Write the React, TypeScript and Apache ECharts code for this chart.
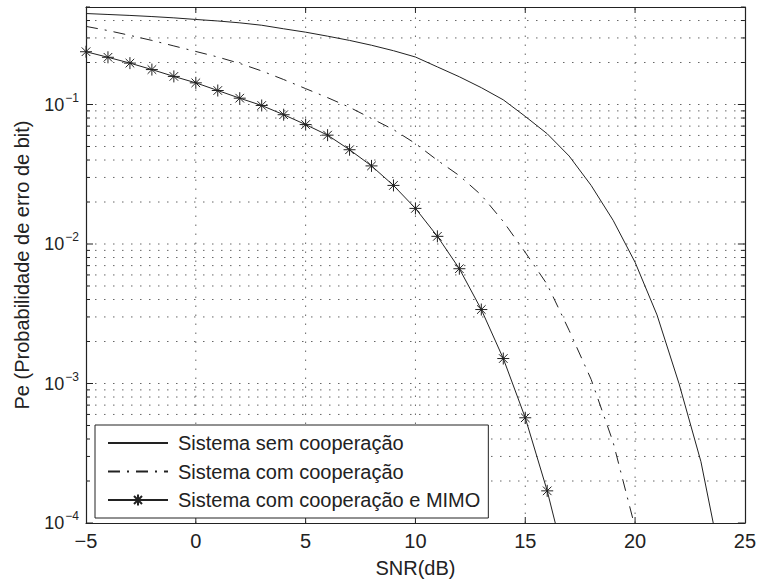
import React, { useEffect, useRef } from 'react';
import * as echarts from 'echarts';

// SNR (dB) sample points
const SNR = [-5, -4, -3, -2, -1, 0, 1, 2, 3, 4, 5, 6, 7, 8, 9, 10, 11, 12, 13, 14, 15, 16, 17, 18, 19, 20, 21, 22, 23, 24];

// Sistema sem cooperação (solid)
const semCooperacao = [
  0.449, 0.442, 0.435, 0.427, 0.418, 0.407, 0.397, 0.385, 0.37, 0.349,
  0.33, 0.309, 0.288, 0.266, 0.243, 0.219, 0.186, 0.158, 0.132, 0.108,
  0.0822, 0.0617, 0.0427, 0.0263, 0.0148, 0.0074, 0.0031, 0.001, 0.000275, 0.000045,
];

// Sistema com cooperação (dash-dot)
const comCooperacao = [
  0.363, 0.339, 0.313, 0.288, 0.263, 0.24, 0.219, 0.197, 0.174, 0.151,
  0.13, 0.112, 0.0955, 0.0794, 0.0661, 0.0525, 0.0398, 0.0309, 0.0224, 0.0145,
  0.00871, 0.00513, 0.0024, 0.00107, 0.00038, 0.000093,
];

// Sistema com cooperação e MIMO (solid + asterisks)
const comCooperacaoMimo = [
  0.239, 0.218, 0.198, 0.178, 0.159, 0.143, 0.126, 0.111, 0.0984, 0.0845,
  0.0718, 0.0603, 0.0474, 0.0363, 0.0263, 0.018, 0.01135, 0.00665, 0.00339, 0.00151,
  0.000568, 0.00017, 0.00004,
];

const SERIES_NAMES = ['Sistema sem cooperação', 'Sistema com cooperação', 'Sistema com cooperação e MIMO'];

const X_MIN = -5;
const X_MAX = 25;
const X_INTERVAL = 5;
const Y_MIN = 1e-4;
const Y_MAX = 0.5;
const X_GRID = [0, 5, 10, 15, 20];
const Y_DECADES = [1e-4, 1e-3, 1e-2, 1e-1];
const Y_MANTISSAS = [1, 2, 3, 4, 5, 6, 7, 8, 9];

const Y_GRID: number[] = [];
Y_DECADES.forEach((d) => {
  Y_MANTISSAS.forEach((m) => {
    const v = +(m * d).toPrecision(6);
    if (v <= Y_MAX + 1e-12) Y_GRID.push(v);
  });
});

const FONT = '"Liberation Sans", Arial, Helvetica, sans-serif';
const INK = '#222';
const GRID_INK = '#666';
const FS = 20;

const ASTERISK = 'path://M0,-6L0,6M-6,0L6,0M-4.3,-4.3L4.3,4.3M-4.3,4.3L4.3,-4.3';

export default function App() {
  const ref = useRef<HTMLDivElement>(null);

  useEffect(() => {
    if (!ref.current) return;
    const chart = echarts.init(ref.current, null, { renderer: 'svg' });

    const pair = (ys: number[]) => ys.map((y, i) => [SNR[i], y]);
    const hiddenSymbol = { color: 'rgba(0,0,0,0)', borderWidth: 0, opacity: 0 };

    const option: any = {
      animation: false,
      backgroundColor: '#fff',
      textStyle: { fontFamily: FONT, color: INK },
      grid: { left: 86, right: 11, top: 7, bottom: 54, containLabel: false },
      xAxis: [
        {
          type: 'value',
          min: X_MIN,
          max: X_MAX,
          interval: X_INTERVAL,
          position: 'bottom',
          name: 'SNR(dB)',
          nameLocation: 'middle',
          nameGap: 35,
          nameTextStyle: { fontSize: FS, fontFamily: FONT, color: INK },
          axisLine: { show: true, onZero: false, lineStyle: { color: INK, width: 1.2 } },
          axisTick: { show: false },
          splitLine: { show: false },
          axisLabel: {
            fontSize: FS,
            fontFamily: FONT,
            color: INK,
            margin: 8,
            formatter: (v: number) => (v < 0 ? '\u2212' + Math.abs(v) : String(v)),
          },
        },
        {
          type: 'value',
          min: X_MIN,
          max: X_MAX,
          interval: X_INTERVAL,
          position: 'top',
          axisLine: { show: true, onZero: false, lineStyle: { color: INK, width: 1.2 } },
          axisTick: { show: false },
          axisLabel: { show: false },
          splitLine: { show: false },
        },
      ],
      yAxis: [
        {
          type: 'log',
          logBase: 10,
          min: Y_MIN,
          max: Y_MAX,
          position: 'left',
          name: 'Pe (Probabilidade de erro de bit)',
          nameLocation: 'middle',
          nameGap: 54,
          nameTextStyle: { fontSize: FS, fontFamily: FONT, color: INK },
          axisLine: { show: true, onZero: false, lineStyle: { color: INK, width: 1.2 } },
          axisTick: { show: false },
          splitLine: { show: false },
          minorSplitLine: { show: false },
          axisLabel: {
            margin: 7,
            color: INK,
            fontFamily: FONT,
            formatter: (v: number) => {
              const e = Math.log10(v);
              if (Math.abs(e - Math.round(e)) > 1e-6) return '';
              const n = Math.round(e);
              return '{b|10}{s|' + (n < 0 ? '\u2212' + Math.abs(n) : String(n)) + '}';
            },
            rich: {
              b: { fontSize: 18, fontFamily: FONT, color: INK, lineHeight: 18, padding: [4, 0, 4, 0] },
              s: { fontSize: 12, fontFamily: FONT, color: INK, lineHeight: 12, padding: [0, 0, 14, 1] },
            },
          },
        },
        {
          type: 'log',
          logBase: 10,
          min: Y_MIN,
          max: Y_MAX,
          position: 'right',
          axisLine: { show: true, onZero: false, lineStyle: { color: INK, width: 1.2 } },
          axisTick: { show: false },
          axisLabel: { show: false },
          splitLine: { show: false },
        },
      ],
      legend: {
        data: [
          { name: SERIES_NAMES[0], itemStyle: hiddenSymbol },
          { name: SERIES_NAMES[1], itemStyle: hiddenSymbol },
          { name: SERIES_NAMES[2] },
        ],
        orient: 'vertical',
        left: 95,
        top: 425,
        itemWidth: 60,
        itemHeight: 14,
        itemGap: 8.5,
        padding: [8, 8, 8, 12],
        backgroundColor: '#fff',
        borderColor: INK,
        borderWidth: 1,
        selectedMode: false,
        textStyle: { fontSize: FS, fontFamily: FONT, color: INK, padding: [0, 0, 0, 5] },
      },
      series: [
        {
          name: 'hgrid',
          type: 'custom',
          xAxisIndex: 0,
          yAxisIndex: 0,
          silent: true,
          z: 1,
          clip: false,
          data: Y_GRID.map((v) => [X_MIN, v]),
          renderItem: (_p: any, api: any) => {
            const v = api.value(1);
            const a = api.coord([X_MIN, v]);
            const b = api.coord([X_MAX, v]);
            const e = Math.log10(v);
            const major = Math.abs(e - Math.round(e)) < 1e-6;
            const len = major ? 7 : 4;
            const children: any[] = [];
            if (v > Y_MIN * 1.0001 && v < Y_MAX * 0.9999) {
              children.push({
                type: 'line',
                shape: { x1: a[0], y1: a[1], x2: b[0], y2: b[1] },
                style: { stroke: GRID_INK, lineWidth: 1, lineDash: [1.5, 7.5] },
              });
            }
            children.push({
              type: 'line',
              shape: { x1: a[0], y1: a[1], x2: a[0] + len, y2: a[1] },
              style: { stroke: INK, lineWidth: 1 },
            });
            children.push({
              type: 'line',
              shape: { x1: b[0] - len, y1: b[1], x2: b[0], y2: b[1] },
              style: { stroke: INK, lineWidth: 1 },
            });
            return { type: 'group', children };
          },
        },
        {
          name: 'vgrid',
          type: 'custom',
          xAxisIndex: 0,
          yAxisIndex: 0,
          silent: true,
          z: 1,
          clip: false,
          data: X_GRID.map((x) => [x, Y_MIN]),
          renderItem: (_p: any, api: any) => {
            const x = api.value(0);
            const a = api.coord([x, Y_MIN]);
            const b = api.coord([x, Y_MAX]);
            const len = 6;
            return {
              type: 'group',
              children: [
                {
                  type: 'line',
                  shape: { x1: a[0], y1: a[1], x2: b[0], y2: b[1] },
                  style: { stroke: GRID_INK, lineWidth: 1, lineDash: [1.5, 7.5] },
                },
                {
                  type: 'line',
                  shape: { x1: a[0], y1: a[1], x2: a[0], y2: a[1] - len },
                  style: { stroke: INK, lineWidth: 1 },
                },
                {
                  type: 'line',
                  shape: { x1: b[0], y1: b[1], x2: b[0], y2: b[1] + len },
                  style: { stroke: INK, lineWidth: 1 },
                },
              ],
            };
          },
        },
        {
          name: SERIES_NAMES[0],
          type: 'line',
          z: 3,
          data: pair(semCooperacao),
          symbol: 'none',
          showSymbol: false,
          clip: true,
          lineStyle: { color: INK, width: 1, type: 'solid' },
          itemStyle: { color: INK },
        },
        {
          name: SERIES_NAMES[1],
          type: 'line',
          z: 3,
          data: pair(comCooperacao),
          symbol: 'none',
          showSymbol: false,
          clip: true,
          lineStyle: { color: INK, width: 1, type: [12, 7, 2, 7] },
          itemStyle: { color: INK },
        },
        {
          name: SERIES_NAMES[2],
          type: 'line',
          z: 3,
          data: pair(comCooperacaoMimo),
          symbol: ASTERISK,
          symbolSize: 12,
          showSymbol: true,
          clip: true,
          lineStyle: { color: INK, width: 1, type: 'solid' },
          itemStyle: { color: 'rgba(0,0,0,0)', borderColor: INK, borderWidth: 1 },
        },
      ],
    };

    chart.setOption(option);
    return () => chart.dispose();
  }, []);

  return <div ref={ref} style={{ width: 759, height: 583, position: 'absolute', left: 0, top: 0 }} />;
}
